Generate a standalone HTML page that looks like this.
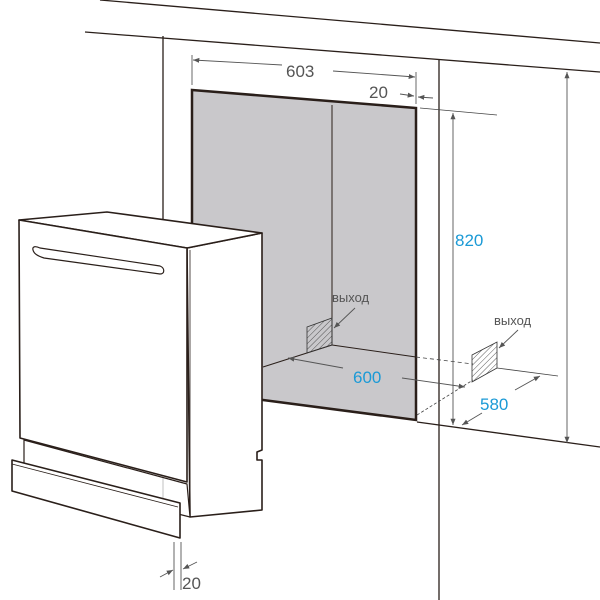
<!DOCTYPE html>
<html><head><meta charset="utf-8"><style>
html,body{margin:0;padding:0;background:#fff}
svg{display:block}
text{font-family:"Liberation Sans","DejaVu Sans",sans-serif}
</style></head><body>
<svg width="600" height="600" viewBox="0 0 600 600" xmlns="http://www.w3.org/2000/svg">
<defs>
<pattern id="h" width="4" height="4" patternUnits="userSpaceOnUse" patternTransform="rotate(45)">
<line x1="0" y1="0" x2="0" y2="4" stroke="#333" stroke-width="0.8"/></pattern>
<marker id="a" viewBox="0 0 10 10" refX="10" refY="5" markerWidth="7" markerHeight="7" orient="auto-start-reverse">
<path d="M0,1 L10,5 L0,9 z" fill="#555"/></marker>
</defs>
<g stroke="#2a1f1a" fill="none" stroke-width="1.3">
<line x1="100" y1="0" x2="600" y2="43"/>
<line x1="85" y1="32" x2="600" y2="72"/>
<line x1="163" y1="36" x2="163" y2="222"/>
<line x1="439" y1="60" x2="439" y2="600"/>
<line x1="417" y1="422" x2="600" y2="447"/>
</g>
<!-- niche -->
<polygon points="192,90 416,108 416,420 263,400 192,390" fill="#c9c8cb" stroke="#2a1f1a" stroke-width="2.5"/>
<g stroke="#2a1f1a" stroke-width="1" fill="none">
<line x1="332" y1="105" x2="332" y2="345"/>
<line x1="332" y1="345" x2="416" y2="357"/>
<line x1="332" y1="345" x2="263" y2="367"/>
</g>
<polygon points="307,327 332,318 332,345 307,353" fill="url(#h)" stroke="#333" stroke-width="0.8"/>
<polygon points="472,355 497,342 497,368 472,382" fill="url(#h)" stroke="#333" stroke-width="0.8"/>
<g stroke="#444" stroke-width="0.8" fill="none">
<line x1="416" y1="357" x2="473" y2="364" stroke-dasharray="4,3"/>
<line x1="497" y1="368" x2="558" y2="376"/>
<line x1="417" y1="415" x2="473" y2="380" stroke-dasharray="3,2"/>
<line x1="192" y1="55" x2="192" y2="85"/>
<line x1="416" y1="72" x2="416" y2="104"/>
<line x1="420" y1="108" x2="497" y2="115"/>
</g>
<g stroke="#555" stroke-width="0.9" fill="none">
<line x1="282" y1="65" x2="193" y2="60" marker-end="url(#a)"/>
<line x1="333" y1="71" x2="415" y2="77" marker-end="url(#a)"/>
<line x1="400" y1="94" x2="414" y2="96" marker-end="url(#a)"/>
<line x1="433" y1="98" x2="418" y2="97" marker-end="url(#a)"/>
<line x1="453" y1="113" x2="453" y2="425" marker-start="url(#a)" marker-end="url(#a)"/>
<line x1="567" y1="72" x2="567" y2="443" marker-start="url(#a)" marker-end="url(#a)"/>
<line x1="343" y1="368" x2="288" y2="358" marker-end="url(#a)"/>
<line x1="402" y1="378" x2="465" y2="387" marker-end="url(#a)"/>
<line x1="482" y1="413" x2="462" y2="425" marker-end="url(#a)"/>
<line x1="515" y1="390" x2="540" y2="376" marker-end="url(#a)"/>
<line x1="355" y1="308" x2="334" y2="328" marker-end="url(#a)"/>
<line x1="518" y1="330" x2="499" y2="348" marker-end="url(#a)"/>
<line x1="160" y1="577" x2="173" y2="570" marker-end="url(#a)"/>
<line x1="197" y1="562" x2="183" y2="569" marker-end="url(#a)"/>
<line x1="174" y1="542" x2="174" y2="590"/>
<line x1="181" y1="542" x2="181" y2="590"/>
</g>
<g fill="#555" font-size="17">
<text x="286" y="77">603</text>
<text x="369" y="98">20</text>
<text x="182" y="589">20</text>
</g>
<g fill="#555" font-size="13">
<text x="332" y="302">выход</text>
<text x="494" y="325">выход</text>
</g>
<g fill="#1b9ad6" font-size="17">
<text x="455" y="246">820</text>
<text x="353" y="383">600</text>
<text x="480" y="410">580</text>
</g>
<!-- dishwasher -->
<g stroke="#2a1f1a" stroke-width="1.6" fill="#fff" stroke-linejoin="round">
<polygon points="187,248 262,233 262,450 257,452 257,460 262,460 262,510 190,517"/>
<polygon points="19,220 107,212 262,233 187,248"/>
<polygon points="24,440 187,484 190,517 24,475" stroke-width="1.2"/>
<polygon points="19,220 187,248 187,482 20,438"/>
<line x1="190" y1="250" x2="190" y2="515" stroke-width="0.8"/>
<path d="M33,250 C32,246 36,246 40,248 L160,266 C165,268 165,274 160,274 L44,258 C38,256 34,254 33,250 Z" stroke-width="1.2"/>
<line x1="163" y1="478" x2="163" y2="502" stroke-width="0.6" stroke="#999"/>
<polygon points="12,460 180,503 180,538 12,491"/>
<line x1="12" y1="464" x2="178" y2="507" stroke-width="0.8"/>
</g>
</svg>
</body></html>
